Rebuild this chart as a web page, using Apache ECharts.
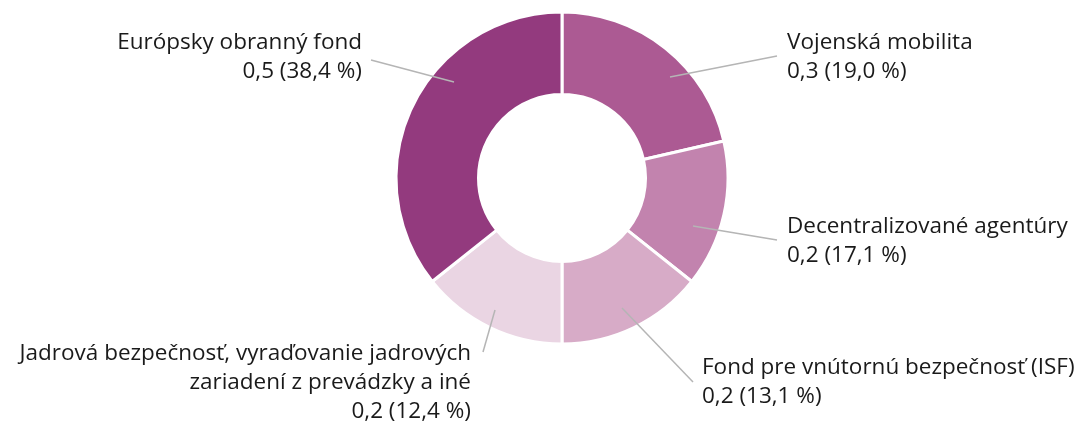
<!DOCTYPE html>
<html>
<head>
<meta charset="utf-8">
<script src="https://cdn.jsdelivr.net/npm/echarts@6/dist/echarts.min.js"></script>
<style>
  html, body { margin: 0; padding: 0; background: #fff; }
  #main { width: 1081px; height: 421px; }
</style>
</head>
<body>
<div id="main"></div>
<script>
// údaje z grafu (výseky sú kreslené podľa zaokrúhlených súm)
var names = [
    'Vojenská mobilita',
    'Decentralizované agentúry',
    'Fond pre vnútornú bezpečnosť (ISF)',
    'Jadrová bezpečnosť, vyraďovanie jadrových\nzariadení z prevádzky a iné',
    'Európsky obranný fond'
];
var amounts = [0.3, 0.2, 0.2, 0.2, 0.5];
var shares = [19.0, 17.1, 13.1, 12.4, 38.4];

var colors = ['#ac5a93', '#c283ae', '#d7abc7', '#ead5e3', '#933a7e'];

// umiestnenie popisov (x, y stred bloku, zarovnanie, začiatok a koniec čiary)
var labelPos = [
    {x: 787, y: 57, align: 'left', from: [670, 77], to: [777, 56]},
    {x: 787, y: 241, align: 'left', from: [693, 226], to: [777, 240]},
    {x: 702, y: 382, align: 'left', from: [622, 308], to: [693, 382]},
    {x: 471, y: 383, align: 'right', from: [495, 310], to: [483, 352]},
    {x: 362, y: 57, align: 'right', from: [454, 82], to: [371, 60]}
];

function fmt(v, d) {
    return v.toFixed(d).replace('.', ',');
}

function DrawPie() {
    var myChart = echarts.init(document.getElementById('main'));

    var data = [];
    var overlay = [];
    for (var i = 0; i < names.length; i++) {
        data.push({
            value: amounts[i],
            name: names[i],
            itemStyle: {color: colors[i]}
        });
        overlay.push({
            value: amounts[i],
            name: names[i],
            share: shares[i],
            itemStyle: {color: 'rgba(0,0,0,0)'}
        });
    }

    var pieBase = {
        type: 'pie',
        center: [562, 178],
        radius: [83.5, 166],
        startAngle: 90,
        clockwise: true,
        avoidLabelOverlap: false,
        emphasis: {disabled: true},
        silent: true
    };

    var option = {
        animation: false,
        series: [
            Object.assign({}, pieBase, {
                z: 2,
                itemStyle: {
                    borderColor: '#fff',
                    borderWidth: 3
                },
                label: {show: false},
                labelLine: {show: false},
                data: data
            }),
            // priehľadná kópia len kvôli popisom, aby čiary boli nad výsekmi
            Object.assign({}, pieBase, {
                z: 5,
                itemStyle: {borderWidth: 0},
                label: {
                    show: true,
                    position: 'outside',
                    fontFamily: 'Open Sans',
                    fontSize: 22.5,
                    lineHeight: 29,
                    color: '#1a1a1a',
                    formatter: function (p) {
                        return p.name + '\n' + fmt(p.value, 1) + ' (' +
                            fmt(p.data.share, 1) + ' %)';
                    }
                },
                labelLine: {
                    show: true,
                    lineStyle: {color: '#b5b5b5', width: 1.5}
                },
                labelLayout: function (params) {
                    var lp = labelPos[params.dataIndex];
                    return {
                        x: lp.x,
                        y: lp.y,
                        align: lp.align,
                        verticalAlign: 'middle',
                        labelLinePoints: [lp.from, lp.from, lp.to]
                    };
                },
                data: overlay
            })
        ]
    };

    myChart.setOption(option);
}

DrawPie();
</script>
</body>
</html>
